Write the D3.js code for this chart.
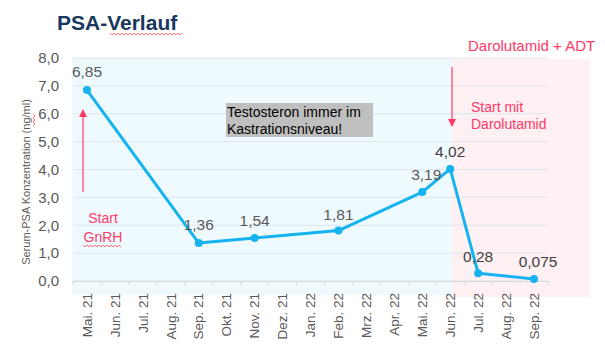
<!DOCTYPE html>
<html><head><meta charset="utf-8">
<script src="https://cdn.jsdelivr.net/npm/d3@7/dist/d3.min.js"></script>
<style>body{margin:0;background:#fff;}svg{display:block;font-family:"Liberation Sans",Arial,sans-serif;}</style>
</head><body>
<svg id="c" width="605" height="347"></svg>
<script>
const months = ["Mai. 21","Jun. 21","Jul. 21","Aug. 21","Sep. 21","Okt. 21","Nov. 21","Dez. 21","Jan. 22","Feb. 22","Mrz. 22","Apr. 22","Mai. 22","Jun. 22","Jul. 22","Aug. 22","Sep. 22"];
const psaMonths = ["Mai. 21","Sep. 21","Nov. 21","Feb. 22","Mai. 22","Jun. 22","Jul. 22","Sep. 22"];
const psaValues = [6.85,1.36,1.54,1.81,3.19,4.02,0.28,0.075];
const psaLabels = ["6,85","1,36","1,54","1,81","3,19","4,02","0,28","0,075"];
const yTicks = [0,1,2,3,4,5,6,7,8];

const svg = d3.select("#c");
const L=73,R=548,T=58,B=281;
const x = d3.scaleBand().domain(months).range([L,R]).padding(0);
const y = d3.scaleLinear().domain([0,8]).range([B,T]);
const red = "#ff3a66";

// backgrounds
svg.append("rect").attr("x",72).attr("y",58).attr("width",452-72).attr("height",295-58).attr("fill","#effaff");
svg.append("rect").attr("x",452).attr("y",59).attr("width",590-452).attr("height",297-59).attr("fill","#fff0f3");

// gridlines
svg.append("g").selectAll("line").data(yTicks).join("line")
  .attr("x1",L).attr("x2",R).attr("y1",d=>y(d)).attr("y2",d=>y(d))
  .attr("stroke","#dce6ea").attr("stroke-width",1);

// y axis labels
svg.append("g").selectAll("text").data(yTicks).join("text")
  .attr("x",59).attr("y",d=>y(d)).attr("dy","0.35em").attr("text-anchor","end")
  .attr("font-size",15).attr("fill","#595959").text(d=>d.toFixed(1).replace(".",","));

// x axis
const xa = svg.append("g").attr("transform",`translate(0,${B})`)
  .call(d3.axisBottom(x).tickSize(0).tickFormat(""));
xa.select(".domain").attr("stroke","#d9d9d9");
const bounds = months.map(m=>x(m)).concat([R]);
xa.append("g").selectAll("line").data(bounds).join("line")
  .attr("x1",d=>d).attr("x2",d=>d).attr("y1",0).attr("y2",4).attr("stroke","#d9d9d9");
svg.append("g").selectAll("text").data(months).join("text")
  .attr("transform",d=>`translate(${x(d)+x.bandwidth()/2},293) rotate(-90)`)
  .attr("dy","0.35em").attr("text-anchor","end").attr("font-size",13.5).attr("fill","#595959").text(d=>d);

// y title
svg.append("text").attr("transform","translate(26,182) rotate(-90)").attr("dy","0.35em")
  .attr("text-anchor","middle").attr("font-size",11).attr("fill","#595959").text("Serum-PSA Konzentration (ng/ml)");

// title
svg.append("text").attr("x",57).attr("y",30).attr("font-size",21).attr("font-weight","bold").attr("fill","#17375e").text("PSA-Verlauf");

// wavy spellcheck lines
function wavy(x0,x1,yy,vert){
  let p="";let i=0;
  for(let t=x0;t<=x1;t+=2,i++){const o=(i%2?1:-1)*0.8; p+= (i?"L":"M")+(vert?[yy+o,t]:[t,yy+o]).join(",");}
  svg.append("path").attr("d",p).attr("fill","none").attr("stroke","#ff4d4d").attr("stroke-width",0.8);
}
wavy(110,182,34,false);
wavy(83,122,246,false);
wavy(114,127,34,true);

// line
const pts = psaMonths.map((m,i)=>({x:x(m)+x.bandwidth()/2,y:y(psaValues[i]),l:psaLabels[i],i}));
svg.append("path").datum(pts).attr("d",d3.line().x(d=>d.x).y(d=>d.y))
  .attr("fill","none").attr("stroke","#15b4f0").attr("stroke-width",3).attr("stroke-linejoin","round");
svg.append("g").selectAll("circle").data(pts).join("circle")
  .attr("cx",d=>d.x).attr("cy",d=>d.y).attr("r",4).attr("fill","#15b4f0");

// data labels
const off = [[0,-13],[0,-13],[0,-12],[0,-11],[4,-12],[0,-12],[0,-11],[4,-12]];
svg.append("g").selectAll("text").data(pts).join("text")
  .attr("x",(d,i)=>d.x+off[i][0]).attr("y",(d,i)=>d.y+off[i][1])
  .attr("text-anchor","middle").attr("font-size",15.5)
  .attr("fill",(d,i)=>i>=5?"#404040":"#595959").text(d=>d.l);

// gray box annotation
svg.append("rect").attr("x",226).attr("y",103).attr("width",147).attr("height",34).attr("fill","#bfbfbf");
svg.append("text").attr("x",227).attr("y",117).attr("font-size",14).attr("fill","#000").text("Testosteron immer im");
svg.append("text").attr("x",227).attr("y",134).attr("font-size",14).attr("fill","#000").text("Kastrationsniveau!");

// left arrow
svg.append("line").attr("x1",83).attr("x2",83).attr("y1",192).attr("y2",115).attr("stroke",red).attr("stroke-width",1.2);
svg.append("path").attr("d","M83,109 L79,117 L87,117 Z").attr("fill",red);
svg.append("text").attr("x",103).attr("y",223).attr("text-anchor","middle").attr("font-size",14).attr("fill",red).text("Start");
svg.append("text").attr("x",103).attr("y",242).attr("text-anchor","middle").attr("font-size",14).attr("fill",red).text("GnRH");

// right arrow
svg.append("line").attr("x1",452).attr("x2",452).attr("y1",67).attr("y2",121).attr("stroke",red).attr("stroke-width",1.2);
svg.append("path").attr("d","M452,127 L448,119 L456,119 Z").attr("fill",red);
svg.append("text").attr("x",471).attr("y",112).attr("font-size",14).attr("fill",red).text("Start mit");
svg.append("text").attr("x",471).attr("y",129).attr("font-size",14).attr("fill",red).text("Darolutamid");

svg.append("text").attr("x",468).attr("y",51).attr("font-size",15).attr("fill",red).text("Darolutamid + ADT");
</script>
</body></html>
